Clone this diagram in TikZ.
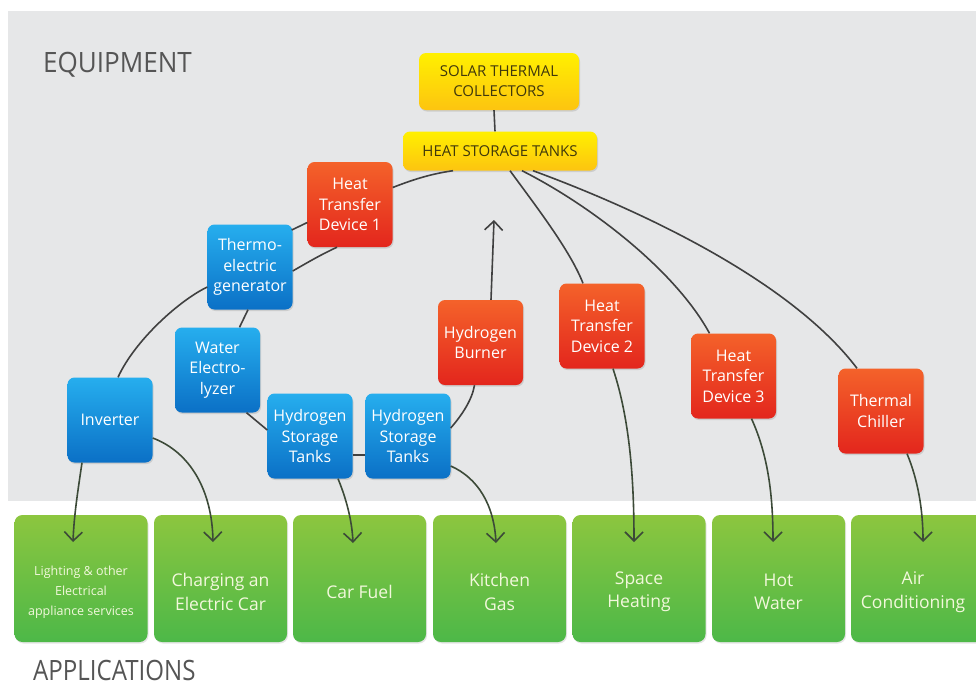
\documentclass[tikz,border=0pt]{standalone}
\usepackage{fontspec}
\usepackage{graphicx}
\setmainfont{Open Sans}
\usetikzlibrary{calc,arrows.meta,shadows}
\definecolor{bg}{HTML}{E6E7E8}
\definecolor{bluetop}{HTML}{26AEEE}
\definecolor{bluebot}{HTML}{0B70C6}
\definecolor{redtop}{HTML}{F4622A}
\definecolor{redbot}{HTML}{E3261D}
\definecolor{ytop}{HTML}{FFF000}
\definecolor{ybot}{HTML}{FDC410}
\definecolor{ytext}{HTML}{40380C}
\definecolor{gtop}{HTML}{8CC63F}
\definecolor{gbot}{HTML}{4DB848}
\definecolor{gtxt}{HTML}{F2F8DC}
\definecolor{linec}{HTML}{404040}
\definecolor{arrc}{HTML}{3C4A38}
\definecolor{titlegray}{HTML}{555555}
\begin{document}
\begin{tikzpicture}[x=1pt,y=-1pt,
  box/.style={rounded corners=7pt, minimum width=85pt, minimum height=85pt, inner sep=1pt,
    align=center, text=white, font=\fontsize{16}{20.5}\selectfont,
    drop shadow={opacity=0.25, shadow xshift=1pt, shadow yshift=-1.5pt}},
  bluebox/.style={box, top color=bluetop, bottom color=bluebot},
  redbox/.style={box, top color=redtop, bottom color=redbot},
  ybox/.style={rounded corners=7pt, top color=ytop, bottom color=ybot, text=ytext, align=center,
    inner sep=1pt, font=\fontsize{15}{20}\selectfont,
    drop shadow={opacity=0.25, shadow xshift=1pt, shadow yshift=-1.5pt}},
  gbox/.style={rounded corners=8pt, minimum width=133pt, minimum height=127pt, inner sep=0pt,
    top color=gtop, bottom color=gbot,
    drop shadow={opacity=0.2, shadow xshift=1pt, shadow yshift=-1.5pt}},
  gtext/.style={text=gtxt, align=center, inner sep=0pt, font=\fontsize{17.5}{23.5}\selectfont},
  link/.style={draw=linec, line width=1.6pt},
  arr/.style={draw=arrc, line width=1.6pt, -{Straight Barb[length=9pt,width=18pt]}},
  title/.style={anchor=base west, inner sep=0pt, text=titlegray, font=\fontsize{28}{30}\selectfont}
]
\useasboundingbox (0,0) rectangle (976,686);
\fill[white] (0,0) rectangle (976,686);
\fill[bg] (8,11) rectangle (976,501);

\node[title] (equip) at (43,72) {\scalebox{0.93}[1]{EQUIPMENT}};
\node[title] (appl) at (33,680) {\scalebox{0.86}[1]{APPLICATIONS}};

% equipment nodes
\node[ybox, minimum width=160pt, minimum height=57pt] (solar) at (499,81.5) {SOLAR THERMAL\\COLLECTORS};
\node[ybox, minimum width=194pt, minimum height=39pt] (storage) at (500,151) {HEAT STORAGE TANKS};
\node[redbox] (htd1) at (350,204.5) {Heat\\Transfer\\Device 1};
\node[bluebox] (thermo) at (250,267) {Thermo-\\electric\\generator};
\node[bluebox] (water) at (217.5,370) {Water\\Electro-\\lyzer};
\node[bluebox] (inverter) at (110,420) {Inverter};
\node[bluebox] (hst1) at (310,436) {Hydrogen\\Storage\\Tanks};
\node[bluebox] (hst2) at (408,436) {Hydrogen\\Storage\\Tanks};
\node[redbox] (burner) at (480.5,342.5) {Hydrogen\\Burner};
\node[redbox] (htd2) at (602,326) {Heat\\Transfer\\Device 2};
\node[redbox] (htd3) at (733.5,376) {Heat\\Transfer\\Device 3};
\node[redbox] (chiller) at (881,411) {Thermal\\Chiller};

% application boxes
\node[gbox] (g1) at (81,578.5) {};
\node[gbox] (g2) at (220.5,578.5) {};
\node[gbox] (g3) at (359.5,578.5) {};
\node[gbox] (g4) at (499.5,578.5) {};
\node[gbox] (g5) at (639,578.5) {};
\node[gbox] (g6) at (778.5,578.5) {};
\node[gbox] (g7) at (917.5,578.5) {};

\node[gtext, font=\fontsize{12.5}{20}\selectfont] (t1) at (81,592) {Lighting \& other\\Electrical\\appliance services};
\node[gtext] (t2) at (220.5,592) {Charging an\\Electric Car};
\node[gtext] (t3) at (359.5,592) {Car Fuel};
\node[gtext] (t4) at (499.5,592) {Kitchen\\Gas};
\node[gtext] (t5) at (639,592) {Space\\Heating};
\node[gtext] (t6) at (778.5,592) {Hot\\Water};
\node[gtext] (t7) at (913,592) {Air\\Conditioning};

% arrow tips
\coordinate (up) at (494,220);
\coordinate (a1) at (73,542);
\coordinate (a2) at (213,542);
\coordinate (a3) at (353,543);
\coordinate (a4) at (496,543);
\coordinate (a5) at (634,542);
\coordinate (a6) at (773,542);
\coordinate (a7) at (923,542);

% connectors in equipment area
\draw[link] ($(solar.south)+(-5,0)$) -- ($(storage.north)+(-5,0)$);
\draw[link] ($(storage.south)+(-47,0)$) .. controls (430,174) and (412,180) .. ($(htd1.east)+(0,-17)$);
\draw[link] ($(thermo.east)+(-1,-37)$) -- ($(htd1.west)+(0,18)$);
\draw[link] ($(htd1.south)+(-13,0)$) .. controls (320,255) and (305,264) .. ($(thermo.east)+(0,4)$);
\draw[link] ($(thermo.west)+(0,20)$) .. controls (180,300) and (135,340) .. ($(inverter.north)+(8,0)$);
\draw[link] ($(thermo.south)+(-2,0)$) -- ($(water.north)+(22,0)$);
\draw[link] ($(water.south)+(29,0)$) -- ($(hst1.west)+(0,-6)$);
\draw[link] ($(hst1.east)+(0,19)$) -- ($(hst2.west)+(0,19)$);
\draw[link] ($(hst2.east)+(0,-8)$) .. controls (462,415) and (472,400) .. ($(burner.south)+(-6,0)$);
\draw[arr, draw=linec] ($(burner.north)+(10.5,0)$) -- (up);
\draw[link] ($(storage.south)+(10,0)$) .. controls (535,205) and (570,250) .. ($(htd2.north)+(-19,0)$);
\draw[link] ($(storage.south)+(22,0)$) .. controls (590,205) and (675,270) .. ($(htd3.north)+(-24,0)$);
\draw[link] ($(storage.south)+(33,0)$) .. controls (640,210) and (790,280) .. ($(chiller.north)+(-24,0)$);

% connectors to applications
\draw[arr] ($(inverter.south)+(-28,0)$) .. controls (78,490) and (74,515) .. (a1);
\draw[arr] ($(inverter.east)+(0,18)$) .. controls (190,452) and (212,490) .. (a2);
\draw[arr] ($(hst1.south)+(28,0)$) .. controls (346,498) and (352,520) .. (a3);
\draw[arr] ($(hst2.east)+(0,30)$) .. controls (478,478) and (494,505) .. (a4);
\draw[arr] ($(htd2.south)+(11,0)$) .. controls (630,420) and (634,480) .. (a5);
\draw[arr] ($(htd3.south)+(18,0)$) .. controls (768,455) and (773,495) .. (a6);
\draw[arr] ($(chiller.south)+(26,0)$) .. controls (918,480) and (923,510) .. (a7);
\end{tikzpicture}
\end{document}
